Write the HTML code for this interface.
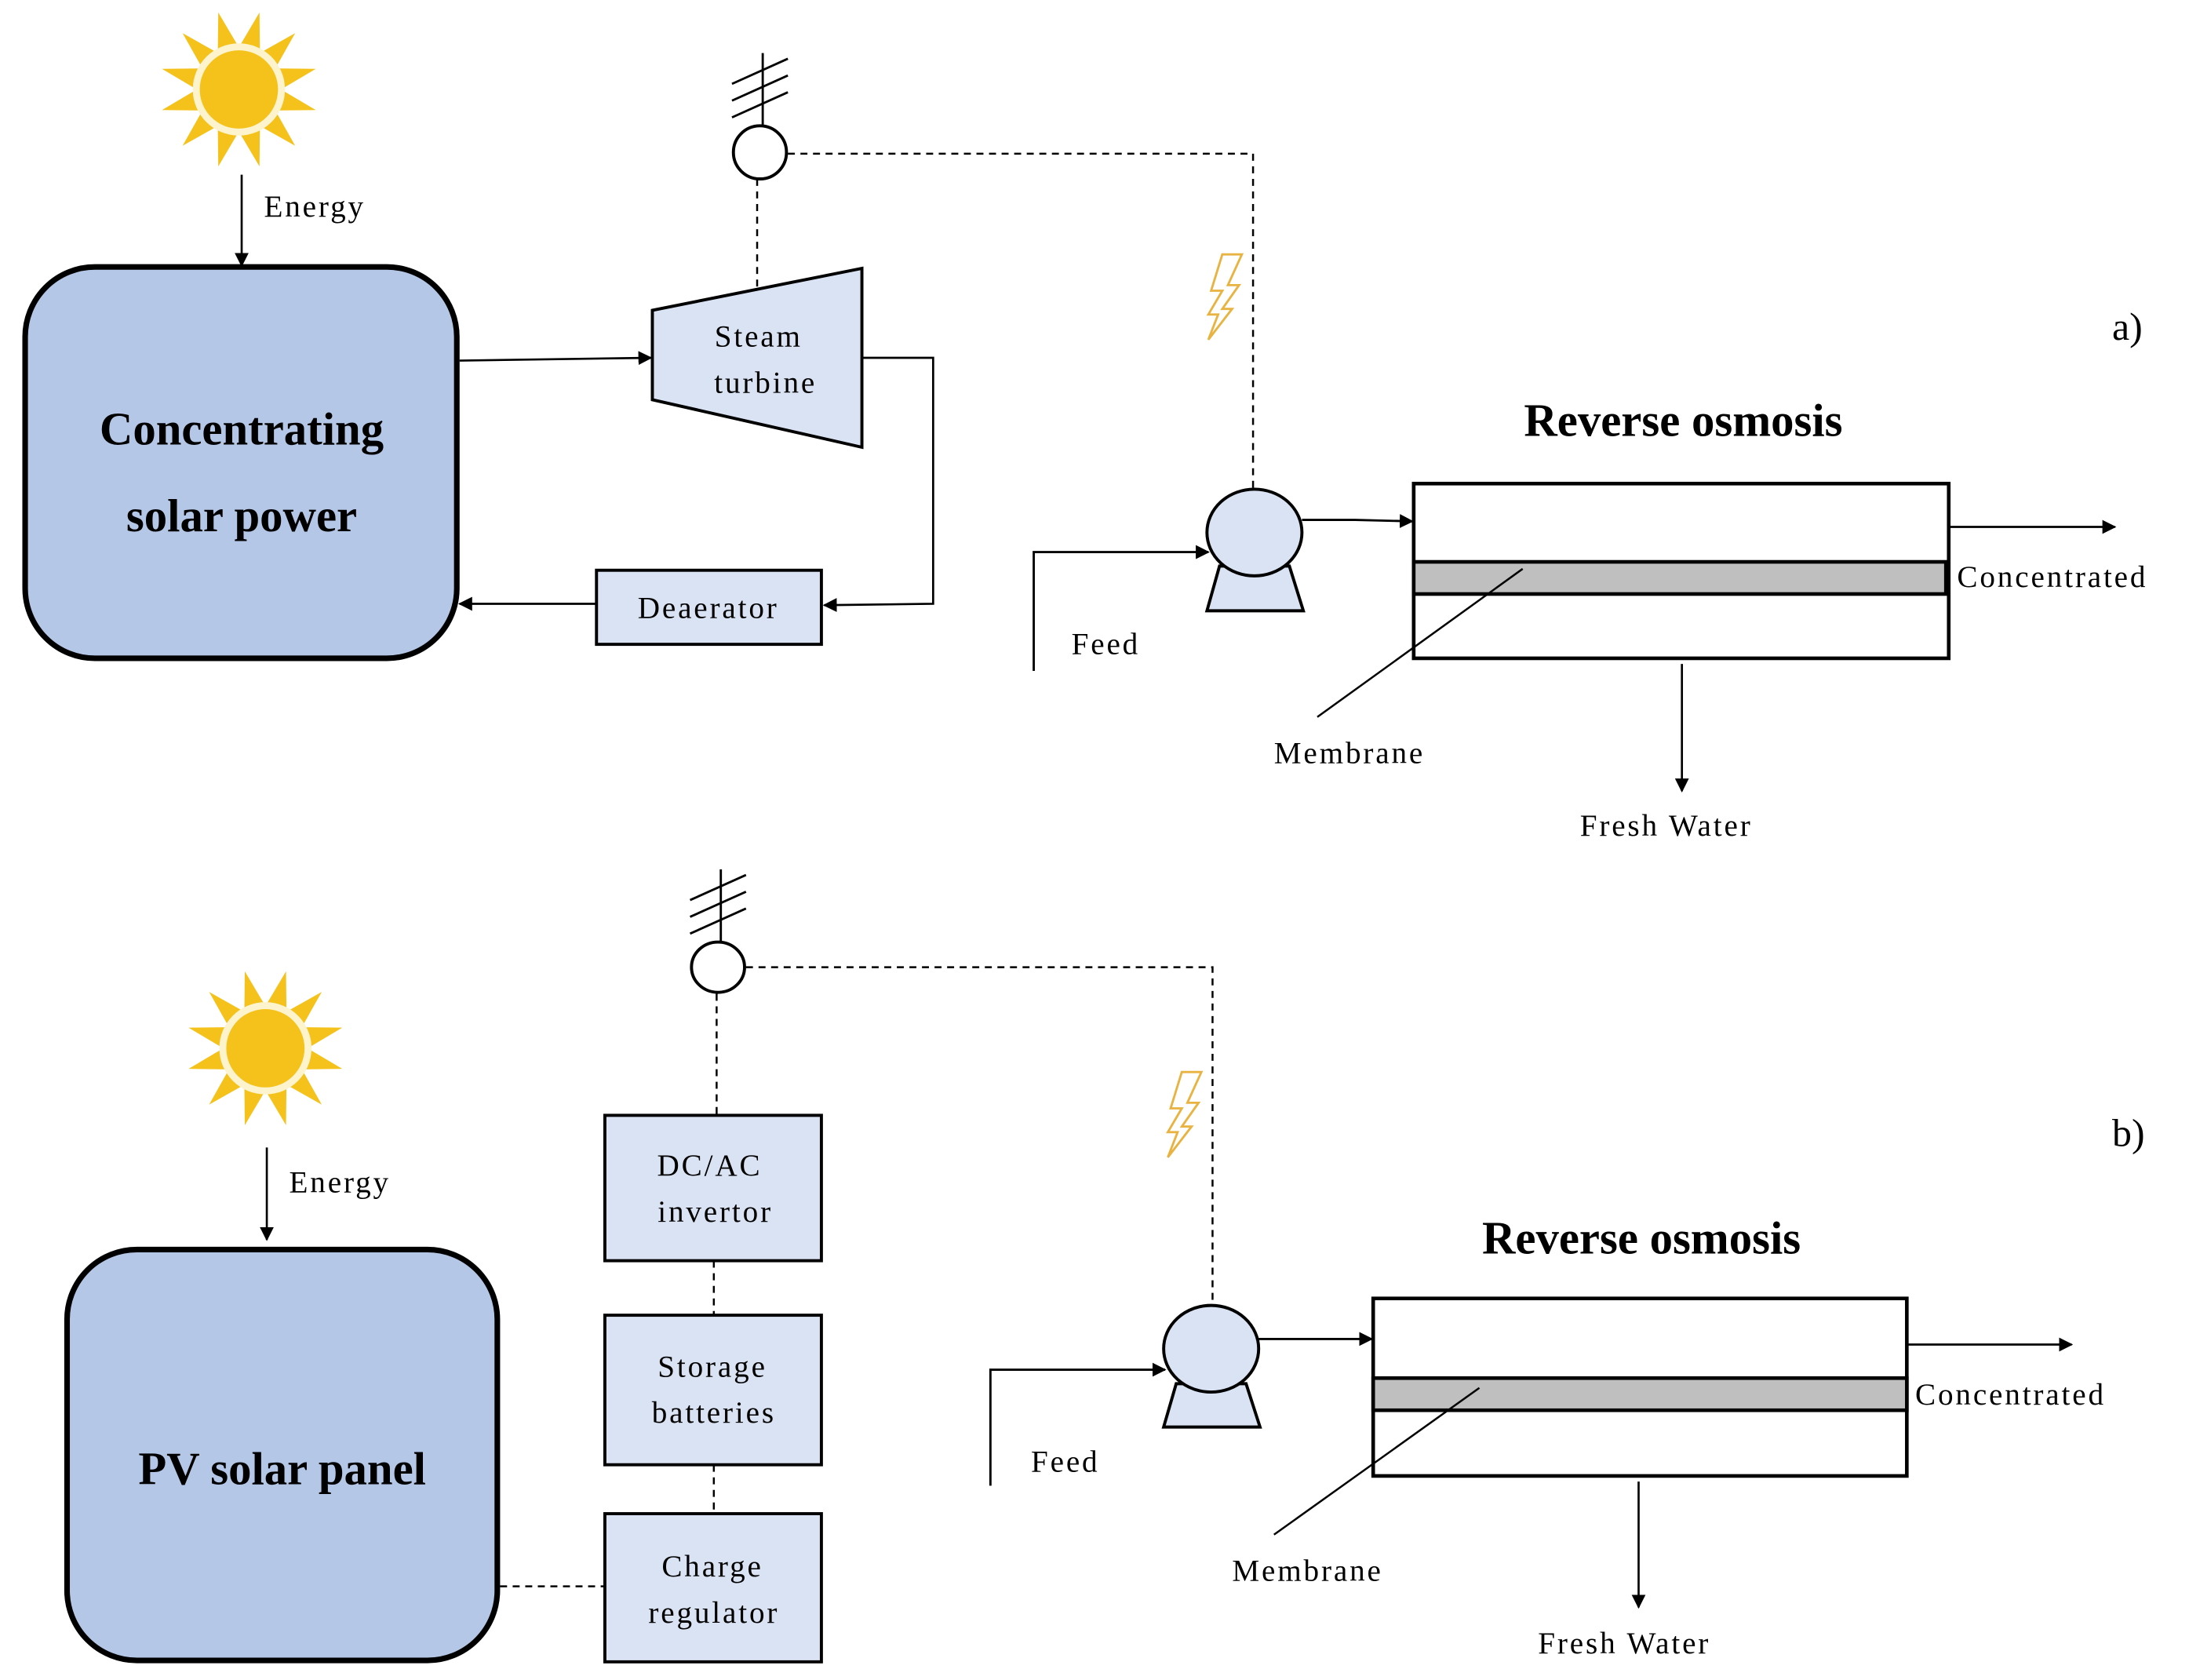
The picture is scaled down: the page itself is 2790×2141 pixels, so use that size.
<!DOCTYPE html>
<html><head><meta charset="utf-8"><style>html,body{margin:0;padding:0;background:#fff}svg{display:block}
text{font-family:"Liberation Serif",serif;fill:#000}
.t{font-size:22px;letter-spacing:1.6px}
.b{font-size:33px;font-weight:bold}
</style></head><body>
<svg width="2790" height="2141" viewBox="0 0 1567 1202" preserveAspectRatio="none" xmlns="http://www.w3.org/2000/svg">
<defs>
<marker id="ar" markerWidth="10" markerHeight="10" refX="9" refY="5" orient="auto" markerUnits="userSpaceOnUse"><path d="M0,0 L10,5 L0,10 Z" fill="#000"/></marker>
<g id="sun">
<g fill="#f5c21b">
<polygon points="-7,-32 7,-32 0,-57" transform="rotate(15)"/><polygon points="-7,-32 7,-32 0,-57" transform="rotate(45)"/><polygon points="-7,-32 7,-32 0,-57" transform="rotate(75)"/><polygon points="-7,-32 7,-32 0,-57" transform="rotate(105)"/><polygon points="-7,-32 7,-32 0,-57" transform="rotate(135)"/><polygon points="-7,-32 7,-32 0,-57" transform="rotate(165)"/><polygon points="-7,-32 7,-32 0,-57" transform="rotate(195)"/><polygon points="-7,-32 7,-32 0,-57" transform="rotate(225)"/><polygon points="-7,-32 7,-32 0,-57" transform="rotate(255)"/><polygon points="-7,-32 7,-32 0,-57" transform="rotate(285)"/><polygon points="-7,-32 7,-32 0,-57" transform="rotate(315)"/><polygon points="-7,-32 7,-32 0,-57" transform="rotate(345)"/>
</g>
<circle r="33" fill="#fdf3cc"/><circle r="28" fill="#f5c21b"/>
</g>
<g id="ant" stroke="#000" stroke-width="1.6" fill="none">
<line x1="0" y1="0" x2="0" y2="52"/><line x1="-22" y1="22" x2="18" y2="4"/><line x1="-22" y1="34" x2="18" y2="16"/><line x1="-22" y1="46" x2="18" y2="28"/>
</g>
<path id="bolt" d="M12,0 L26,0 L16,22 L24,22 L12,39 L19,39 L2,61 L9,43 L2,43 L12,26 L4,26 Z" fill="none" stroke="#e8b341" stroke-width="1.6"/>
</defs>

<!-- ===== a) ===== -->
<use href="#sun" x="171" y="64"/>
<line x1="173" y1="125" x2="173" y2="190" stroke="#000" stroke-width="1.5" marker-end="url(#ar)"/>
<text class="t" x="189" y="155">Energy</text>
<rect x="18" y="191" width="309" height="280" rx="50" fill="#b4c7e7" stroke="#000" stroke-width="4"/>
<text class="b" x="173" y="318" text-anchor="middle">Concentrating</text>
<text class="b" x="173" y="380" text-anchor="middle">solar power</text>
<line x1="329" y1="258" x2="466" y2="256" stroke="#000" stroke-width="1.5" marker-end="url(#ar)"/>
<polygon points="467,222 617,192 617,320 467,286" fill="#dae3f3" stroke="#000" stroke-width="2.2"/>
<text class="t" x="543" y="248" text-anchor="middle">Steam</text>
<text class="t" x="548" y="281" text-anchor="middle">turbine</text>
<line x1="542" y1="205" x2="542" y2="128" stroke="#000" stroke-width="1.4" stroke-dasharray="5,4"/>
<use href="#ant" x="546" y="38"/>
<ellipse cx="544" cy="109" rx="19" ry="19" fill="#fff" stroke="#000" stroke-width="2.2"/>
<polyline points="564,110 897,110 897,350" fill="none" stroke="#000" stroke-width="1.4" stroke-dasharray="5,4"/>
<use href="#bolt" x="863" y="182"/>
<polyline points="617,256 668,256 668,432 590,433" fill="none" stroke="#000" stroke-width="1.5" marker-end="url(#ar)"/>
<rect x="427" y="408" width="161" height="53" fill="#dae3f3" stroke="#000" stroke-width="2.2"/>
<text class="t" x="507" y="442" text-anchor="middle">Deaerator</text>
<line x1="427" y1="432" x2="329" y2="432" stroke="#000" stroke-width="1.5" marker-end="url(#ar)"/>
<!-- pump a -->
<polyline points="740,480 740,395 865,395" fill="none" stroke="#000" stroke-width="1.6" marker-end="url(#ar)"/>
<polygon points="873,405 923,405 933,437 864,437" fill="#dae3f3" stroke="#000" stroke-width="2.2"/>
<ellipse cx="898" cy="381" rx="34" ry="31" fill="#dae3f3" stroke="#000" stroke-width="2.2"/>
<text class="t" x="767" y="468">Feed</text>
<polyline points="932,372 970,372 1011,373" fill="none" stroke="#000" stroke-width="1.6" marker-end="url(#ar)"/>
<text class="b" x="1205" y="312" text-anchor="middle">Reverse osmosis</text>
<rect x="1012" y="346" width="383" height="125" fill="#fff" stroke="#000" stroke-width="2.6"/>
<rect x="1012" y="402" width="381" height="23" fill="#bfbfbf" stroke="#000" stroke-width="2.6"/>
<line x1="1395" y1="377" x2="1514" y2="377" stroke="#000" stroke-width="1.5" marker-end="url(#ar)"/>
<text class="t" x="1401" y="420">Concentrated</text>
<line x1="1090" y1="407" x2="943" y2="513" stroke="#000" stroke-width="1.4"/>
<text class="t" x="912" y="546">Membrane</text>
<line x1="1204" y1="475" x2="1204" y2="566" stroke="#000" stroke-width="1.5" marker-end="url(#ar)"/>
<text class="t" x="1131" y="598">Fresh Water</text>
<text style="font-size:28px" x="1512" y="243">a)</text>

<!-- ===== b) ===== -->
<use href="#sun" x="190" y="750"/>
<line x1="191" y1="821" x2="191" y2="887" stroke="#000" stroke-width="1.5" marker-end="url(#ar)"/>
<text class="t" x="207" y="853">Energy</text>
<rect x="48" y="894" width="308" height="294" rx="50" fill="#b4c7e7" stroke="#000" stroke-width="4"/>
<text class="b" x="202" y="1062" text-anchor="middle">PV solar panel</text>
<use href="#ant" x="516" y="622"/>
<ellipse cx="514" cy="692" rx="19" ry="18" fill="#fff" stroke="#000" stroke-width="2.2"/>
<line x1="513" y1="711" x2="513" y2="798" stroke="#000" stroke-width="1.4" stroke-dasharray="5,4"/>
<polyline points="534,692 868,692 868,935" fill="none" stroke="#000" stroke-width="1.4" stroke-dasharray="5,4"/>
<use href="#bolt" x="834" y="767"/>
<rect x="433" y="798" width="155" height="104" fill="#dae3f3" stroke="#000" stroke-width="2.2"/>
<text class="t" x="508" y="841" text-anchor="middle">DC/AC</text>
<text class="t" x="512" y="874" text-anchor="middle">invertor</text>
<line x1="511" y1="902" x2="511" y2="941" stroke="#000" stroke-width="1.4" stroke-dasharray="5,4"/>
<rect x="433" y="941" width="155" height="107" fill="#dae3f3" stroke="#000" stroke-width="2.2"/>
<text class="t" x="510" y="985" text-anchor="middle">Storage</text>
<text class="t" x="511" y="1018" text-anchor="middle">batteries</text>
<line x1="511" y1="1048" x2="511" y2="1083" stroke="#000" stroke-width="1.4" stroke-dasharray="5,4"/>
<rect x="433" y="1083" width="155" height="106" fill="#dae3f3" stroke="#000" stroke-width="2.2"/>
<text class="t" x="510" y="1128" text-anchor="middle">Charge</text>
<text class="t" x="511" y="1161" text-anchor="middle">regulator</text>
<line x1="358" y1="1135" x2="433" y2="1135" stroke="#000" stroke-width="1.4" stroke-dasharray="5,4"/>
<!-- pump b -->
<polyline points="709,1063 709,980 834,980" fill="none" stroke="#000" stroke-width="1.6" marker-end="url(#ar)"/>
<polygon points="842,990 892,990 902,1021 833,1021" fill="#dae3f3" stroke="#000" stroke-width="2.2"/>
<ellipse cx="867" cy="965" rx="34" ry="31" fill="#dae3f3" stroke="#000" stroke-width="2.2"/>
<text class="t" x="738" y="1053">Feed</text>
<line x1="901" y1="958" x2="982" y2="958" stroke="#000" stroke-width="1.6" marker-end="url(#ar)"/>
<text class="b" x="1175" y="897" text-anchor="middle">Reverse osmosis</text>
<rect x="983" y="929" width="382" height="127" fill="#fff" stroke="#000" stroke-width="2.6"/>
<rect x="983" y="986" width="382" height="23" fill="#bfbfbf" stroke="#000" stroke-width="2.6"/>
<line x1="1365" y1="962" x2="1483" y2="962" stroke="#000" stroke-width="1.5" marker-end="url(#ar)"/>
<text class="t" x="1371" y="1005">Concentrated</text>
<line x1="1059" y1="993" x2="912" y2="1098" stroke="#000" stroke-width="1.4"/>
<text class="t" x="882" y="1131">Membrane</text>
<line x1="1173" y1="1060" x2="1173" y2="1150" stroke="#000" stroke-width="1.5" marker-end="url(#ar)"/>
<text class="t" x="1101" y="1183">Fresh Water</text>
<text style="font-size:28px" x="1512" y="820">b)</text>
</svg>
</body></html>
